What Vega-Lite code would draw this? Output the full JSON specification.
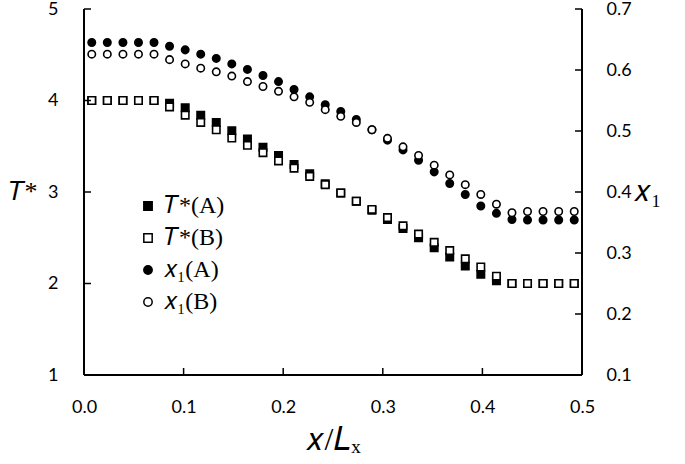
{
  "$schema": "https://vega.github.io/schema/vega-lite/v6.json",
  "autosize": "none",
  "width": 498,
  "height": 366,
  "padding": {"left": 84, "top": 9, "right": 103, "bottom": 89},
  "background": "white",
  "config": {
    "view": {"stroke": null},
    "axis": {
      "grid": false,
      "domain": false,
      "ticks": false,
      "labelFlush": false,
      "labelOverlap": false,
      "labelFont": "Lato",
      "labelFontSize": 18,
      "labelColor": "black",
      "titleFont": "Liberation Serif",
      "titleFontWeight": "normal",
      "titleFontSize": 26,
      "titleColor": "black"
    }
  },
  "datasets": {
    "xticks": [{"t": 0.1}, {"t": 0.2}, {"t": 0.3}, {"t": 0.4}],
    "lticks": [{"t": 2}, {"t": 3}, {"t": 4}, {"t": 5}],
    "rticks": [{"t": 0.2}, {"t": 0.3}, {"t": 0.4}, {"t": 0.5}, {"t": 0.6}, {"t": 0.7}]
  },
  "data": {
    "values": [
      {"x": 0.0078, "TA": 4.0, "TB": 4.0, "XA": 0.645, "XB": 0.626},
      {"x": 0.0234, "TA": 4.0, "TB": 4.0, "XA": 0.645, "XB": 0.626},
      {"x": 0.0391, "TA": 4.0, "TB": 4.0, "XA": 0.645, "XB": 0.626},
      {"x": 0.0547, "TA": 4.0, "TB": 4.0, "XA": 0.645, "XB": 0.626},
      {"x": 0.0703, "TA": 4.0, "TB": 4.0, "XA": 0.645, "XB": 0.626},
      {"x": 0.0859, "TA": 3.97, "TB": 3.93, "XA": 0.639, "XB": 0.617},
      {"x": 0.1016, "TA": 3.92, "TB": 3.84, "XA": 0.633, "XB": 0.610},
      {"x": 0.1172, "TA": 3.84, "TB": 3.76, "XA": 0.626, "XB": 0.603},
      {"x": 0.1328, "TA": 3.76, "TB": 3.68, "XA": 0.619, "XB": 0.597},
      {"x": 0.1484, "TA": 3.67, "TB": 3.59, "XA": 0.610, "XB": 0.590},
      {"x": 0.1641, "TA": 3.58, "TB": 3.51, "XA": 0.601, "XB": 0.581},
      {"x": 0.1797, "TA": 3.49, "TB": 3.43, "XA": 0.591, "XB": 0.573},
      {"x": 0.1953, "TA": 3.40, "TB": 3.34, "XA": 0.581, "XB": 0.565},
      {"x": 0.2109, "TA": 3.30, "TB": 3.26, "XA": 0.568, "XB": 0.556},
      {"x": 0.2266, "TA": 3.20, "TB": 3.17, "XA": 0.556, "XB": 0.547},
      {"x": 0.2422, "TA": 3.09, "TB": 3.08, "XA": 0.543, "XB": 0.535},
      {"x": 0.2578, "TA": 2.99, "TB": 2.99, "XA": 0.532, "XB": 0.524},
      {"x": 0.2734, "TA": 2.90, "TB": 2.90, "XA": 0.519, "XB": 0.514},
      {"x": 0.2891, "TA": 2.80, "TB": 2.81, "XA": 0.502, "XB": 0.502},
      {"x": 0.3047, "TA": 2.70, "TB": 2.72, "XA": 0.485, "XB": 0.488},
      {"x": 0.3203, "TA": 2.60, "TB": 2.63, "XA": 0.469, "XB": 0.474},
      {"x": 0.3359, "TA": 2.50, "TB": 2.54, "XA": 0.452, "XB": 0.460},
      {"x": 0.3516, "TA": 2.39, "TB": 2.45, "XA": 0.433, "XB": 0.444},
      {"x": 0.3672, "TA": 2.29, "TB": 2.36, "XA": 0.414, "XB": 0.428},
      {"x": 0.3828, "TA": 2.19, "TB": 2.27, "XA": 0.396, "XB": 0.412},
      {"x": 0.3984, "TA": 2.10, "TB": 2.18, "XA": 0.377, "XB": 0.396},
      {"x": 0.4141, "TA": 2.03, "TB": 2.08, "XA": 0.365, "XB": 0.380},
      {"x": 0.4297, "TA": 2.0, "TB": 2.0, "XA": 0.355, "XB": 0.366},
      {"x": 0.4453, "TA": 2.0, "TB": 2.0, "XA": 0.354, "XB": 0.368},
      {"x": 0.4609, "TA": 2.0, "TB": 2.0, "XA": 0.354, "XB": 0.368},
      {"x": 0.4766, "TA": 2.0, "TB": 2.0, "XA": 0.354, "XB": 0.368},
      {"x": 0.4922, "TA": 2.0, "TB": 2.0, "XA": 0.354, "XB": 0.368}
    ]
  },
  "layer": [
    {
      "layer": [
        {
          "transform": [{"fold": ["TA", "TB"]}],
          "mark": {"type": "point", "filled": true, "stroke": "black", "strokeWidth": 1.6, "opacity": 1, "size": 55},
          "encoding": {
            "x": {
              "field": "x",
              "type": "quantitative",
              "scale": {"domain": [0, 0.5], "nice": false},
              "axis": {
                "values": [0, 0.1, 0.2, 0.3, 0.4, 0.5],
                "format": ".1f",
                "labelPadding": 23,
                "title": "𝑥/𝐿ₓ",
                "titleFontSize": 32,
                "titlePadding": 8
              }
            },
            "y": {
              "field": "value",
              "type": "quantitative",
              "scale": {"domain": [1, 5], "nice": false},
              "axis": {
                "values": [1, 2, 3, 4, 5],
                "format": "d",
                "labelPadding": 26,
                "title": "𝑇*",
                "titleAngle": 0,
                "titlePadding": 25,
                "titleY": 182,
                "titleBaseline": "middle"
              }
            },
            "shape": {
              "field": "key",
              "type": "nominal",
              "scale": {"domain": ["TA", "TB", "XA", "XB"], "range": ["square", "square", "circle", "circle"]},
              "legend": {
                "title": null,
                "orient": "none",
                "legendX": 52,
                "legendY": 185,
                "labelFont": "Liberation Serif",
                "labelFontSize": 24,
                "labelColor": "black",
                "rowPadding": 8,
                "symbolSize": 70,
                "labelExpr": "{'TA': '𝑇*(A)', 'TB': '𝑇*(B)', 'XA': '𝑥₁(A)', 'XB': '𝑥₁(B)'}[datum.value]",
                "encode": {"symbols": {"update": {"stroke": {"value": "black"}, "strokeWidth": {"value": 1.5}}}}
              }
            },
            "fill": {
              "field": "key",
              "type": "nominal",
              "scale": {"domain": ["TA", "TB", "XA", "XB"], "range": ["black", "white", "black", "white"]},
              "legend": {
                "title": null,
                "orient": "none",
                "legendX": 52,
                "legendY": 185,
                "labelFont": "Liberation Serif",
                "labelFontSize": 24,
                "labelColor": "black",
                "rowPadding": 8,
                "symbolSize": 70,
                "labelExpr": "{'TA': '𝑇*(A)', 'TB': '𝑇*(B)', 'XA': '𝑥₁(A)', 'XB': '𝑥₁(B)'}[datum.value]",
                "encode": {"symbols": {"update": {"stroke": {"value": "black"}, "strokeWidth": {"value": 1.5}}}}
              }
            }
          }
        },
        {
          "mark": {"type": "rule", "color": "black", "strokeWidth": 1.6},
          "encoding": {"x": {"datum": 0, "type": "quantitative"}}
        },
        {
          "mark": {"type": "rule", "color": "black", "strokeWidth": 1.6},
          "encoding": {"y": {"datum": 1, "type": "quantitative"}}
        },
        {
          "data": {"name": "xticks"},
          "mark": {"type": "tick", "orient": "vertical", "color": "black", "size": 7, "thickness": 1.5, "yOffset": -3.5, "opacity": 1},
          "encoding": {"x": {"field": "t", "type": "quantitative"}, "y": {"datum": 1, "type": "quantitative"}}
        },
        {
          "data": {"name": "lticks"},
          "mark": {"type": "tick", "orient": "horizontal", "color": "black", "size": 7, "thickness": 1.5, "xOffset": 3.5, "opacity": 1},
          "encoding": {"y": {"field": "t", "type": "quantitative"}, "x": {"datum": 0, "type": "quantitative"}}
        }
      ]
    },
    {
      "layer": [
        {
          "transform": [{"fold": ["XA", "XB"]}],
          "mark": {"type": "point", "filled": true, "stroke": "black", "strokeWidth": 1.6, "opacity": 1, "size": 55},
          "encoding": {
            "x": {"field": "x", "type": "quantitative"},
            "y": {
              "field": "value",
              "type": "quantitative",
              "scale": {"domain": [0.1, 0.7], "nice": false},
              "axis": {
                "orient": "right",
                "values": [0.1, 0.2, 0.3, 0.4, 0.5, 0.6, 0.7],
                "format": ".1f",
                "labelPadding": 24,
                "title": "𝑥₁",
                "titleFontSize": 30,
                "titleAngle": 0,
                "titlePadding": 16,
                "titleY": 182,
                "titleBaseline": "middle"
              }
            },
            "shape": {"field": "key", "type": "nominal"},
            "fill": {"field": "key", "type": "nominal"}
          }
        },
        {
          "mark": {"type": "rule", "color": "black", "strokeWidth": 1.6},
          "encoding": {"x": {"datum": 0.5, "type": "quantitative"}}
        },
        {
          "data": {"name": "rticks"},
          "mark": {"type": "tick", "orient": "horizontal", "color": "black", "size": 7, "thickness": 1.5, "xOffset": -3.5, "opacity": 1},
          "encoding": {"y": {"field": "t", "type": "quantitative"}, "x": {"datum": 0.5, "type": "quantitative"}}
        }
      ]
    }
  ],
  "resolve": {"scale": {"y": "independent"}}
}
